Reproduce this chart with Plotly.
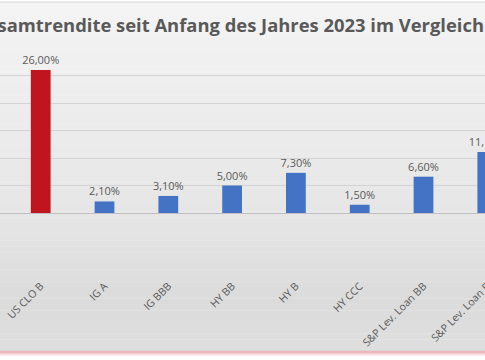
import plotly.graph_objects as go

categories = ["US CLO B", "IG A", "IG BBB", "HY BB", "HY B", "HY CCC",
              "S&P Lev. Loan BB", "S&P Lev. Loan B"]
returns_pct = [26.00, 2.10, 3.10, 5.00, 7.30, 1.50, 6.60, 11.10]
bar_colors = ["#C0141F"] + ["#4472C4"] * 7
title_text = "Gesamtrendite seit Anfang des Jahres 2023 im Vergleich"

W, H = 520, 360
plot_top, plot_bot = 48.3, 212.7
mt = plot_top
mb = H - plot_bot
ph = plot_bot - plot_top

def py2paper(py):
    return (plot_bot - py) / ph

fig = go.Figure()
fig.add_trace(go.Bar(
    x=categories, y=returns_pct,
    marker=dict(color=bar_colors, line=dict(width=0)),
    width=0.31,
    texttemplate="%{y:.2f}%", textposition="outside",
    constraintext="none",
    textfont=dict(family="Open Sans", size=11, color="#595959"),
    cliponaxis=True,
))

# background gradient bands (style only)
shapes = []
stops = [(3, (0xf4, 0xf4, 0xf4)), (212, (0xe6, 0xe6, 0xe6)), (300, (0xdb, 0xdb, 0xdb)), (350, (0xdf, 0xdf, 0xdf))]
n = 60
for i in range(n):
    y0 = 3 + (350 - 3) * i / n
    y1 = 3 + (350 - 3) * (i + 1) / n
    ym = (y0 + y1) / 2
    for (a, ca), (b, cb) in zip(stops[:-1], stops[1:]):
        if a <= ym <= b:
            t = (ym - a) / (b - a)
            c = tuple(int(round(ca[k] + (cb[k] - ca[k]) * t)) for k in range(3))
            break
    shapes.append(dict(type="rect", xref="paper", yref="paper", x0=-0.01, x1=1.01,
                       y0=py2paper(y1 + 0.3), y1=py2paper(y0), fillcolor="rgb(%d,%d,%d)" % c,
                       line=dict(width=0), layer="below"))
# top border line
shapes.append(dict(type="line", xref="paper", yref="paper", x0=-0.01, x1=1.01,
                   y0=py2paper(2.5), y1=py2paper(2.5), line=dict(color="#d6d6d6", width=1), layer="below"))
# bottom pink border
shapes.append(dict(type="rect", xref="paper", yref="paper", x0=-0.01, x1=1.01,
                   y0=py2paper(353), y1=py2paper(350), fillcolor="#eab6bb", line=dict(width=0), layer="below"))
shapes.append(dict(type="rect", xref="paper", yref="paper", x0=-0.01, x1=1.01,
                   y0=py2paper(355), y1=py2paper(353), fillcolor="#f8dfe1", line=dict(width=0), layer="below"))

fig.update_layout(
    width=W, height=H,
    margin=dict(l=0, r=0, t=mt, b=mb, pad=0),
    paper_bgcolor="white", plot_bgcolor="rgba(0,0,0,0)",
    separators=",.",
    showlegend=False,
    shapes=shapes,
    title=dict(text="<b>" + title_text + "</b>", x=484 / W, xref="paper", xanchor="right",
               y=1 - 25.5 / H, yanchor="middle",
               font=dict(family="Open Sans", size=18.4, color="#595959")),
    font=dict(family="Open Sans", color="#595959"),
)
fig.update_yaxes(range=[0, 30], dtick=5, showticklabels=False, gridcolor="#d4d4d4",
                 gridwidth=1, zeroline=False, showline=False)
fig.update_xaxes(range=[-0.638, -0.638 + W / 63.8], tickangle=-45, ticklabelstandoff=62,
                 tickfont=dict(family="Open Sans", size=10.5, color="#595959"),
                 showline=True, linecolor="#bfbfbf", linewidth=1, ticks="")

fig.write_html("out.html", config={"displayModeBar": False},
               post_script="document.body.style.margin='0';document.body.style.overflow='hidden';"
                           "document.documentElement.style.overflow='hidden';")
